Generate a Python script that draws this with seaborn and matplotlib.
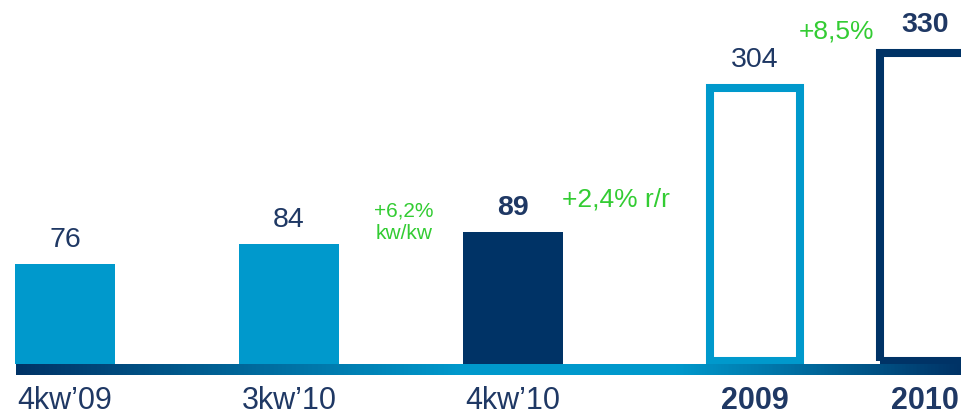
import numpy as np
import matplotlib
matplotlib.use('Agg')
import matplotlib.pyplot as plt
from matplotlib.colors import LinearSegmentedColormap
import seaborn as sns

# data
q_labels = ["4kw\u201909", "3kw\u201910", "4kw\u201910"]
q_values = [76, 84, 89]
y_labels = ["2009", "2010"]
y_values = [304, 330]
growth_q = "+6,2%\nkw/kw"
growth_qy = "+2,4% r/r"
growth_y = "+8,5%"

LIGHT = '#0099CC'
NAVY = '#003366'
TEXT = '#1F3864'
GREEN = '#33CC33'

sns.set_theme(style='white')
plt.rcParams['font.family'] = ['Liberation Sans', 'DejaVu Sans']

W, H = 961, 414
fig = plt.figure(figsize=(W / 100, H / 100), dpi=100)
base_px = 365  # top of the baseline band, in pixels from the top

def frac_rect(left, right, top, bottom):
    return [left / W, (H - bottom) / H, (right - left) / W, (bottom - top) / H]

# quarterly bars
ax1 = fig.add_axes(frac_rect(-2, 580, 0, base_px))
sns.barplot(x=q_labels, y=q_values, hue=q_labels, palette=[LIGHT, LIGHT, NAVY],
            width=0.446, saturation=1, errorbar=None, legend=False, linewidth=0, ax=ax1)
ax1.set_xlim(-0.3, 2.3)
ax1.set_ylim(35, 184)
for i, v in enumerate(q_values):
    ax1.annotate(str(v), xy=(i, v), xytext=(0, 13), textcoords='offset points',
                 ha='center', va='baseline', fontsize=20.5, color=TEXT,
                 fontweight='bold' if i == 2 else 'normal')

# yearly bars (outlined)
ax2 = fig.add_axes(frac_rect(670, 1010, 0, base_px))
sns.barplot(x=y_labels, y=y_values, hue=y_labels, palette=[LIGHT, NAVY],
            width=0.535, saturation=1, errorbar=None, legend=False, fill=False,
            linewidth=5.8, ax=ax2)
ax2.set_xlim(-0.5, 1.5)
ylo = 99
ax2.set_ylim(ylo, 370)
bars = sorted([p for p in ax2.patches], key=lambda p: p.get_x())
for p, v in zip(bars, y_values):
    p.set_y(ylo + 2.5)
    p.set_height(v - ylo - 2.5)
    p.set_joinstyle('miter')
for i, v in enumerate(y_values):
    ax2.annotate(str(v), xy=(i, v), xytext=(0, 16), textcoords='offset points',
                 ha='center', va='baseline', fontsize=20.5, color=TEXT,
                 fontweight='bold' if i == 1 else 'normal')

for ax, bold in [(ax1, False), (ax2, True)]:
    ax.set_xlabel('')
    ax.set_ylabel('')
    ax.set_yticks([])
    ax.tick_params(axis='x', length=0, pad=15, labelsize=22, labelcolor=TEXT)
    for t in ax.get_xticklabels():
        t.set_fontweight('bold' if bold else 'normal')
    ax.patch.set_alpha(0)
    sns.despine(ax=ax, left=True, bottom=True)

# growth notes
fig.text(404 / W, 1 - 239 / H, growth_q, ha='center', va='baseline', fontsize=15,
         color=GREEN, linespacing=1.25)
fig.text(616 / W, 1 - 207 / H, growth_qy, ha='center', va='baseline', fontsize=19,
         color=GREEN)
fig.text(836 / W, 1 - 38 / H, growth_y, ha='center', va='baseline', fontsize=19,
         color=GREEN)

# gradient baseline band
bax = fig.add_axes(frac_rect(16, 961, base_px, 376))
cmap = LinearSegmentedColormap.from_list('band', [(0, NAVY), (0.47, LIGHT), (0.70, LIGHT), (1, NAVY)])
bax.imshow(np.linspace(0, 1, 512)[None, :], aspect='auto', cmap=cmap)
bax.axis('off')

fig.savefig('out.png', dpi=100, facecolor='white')
